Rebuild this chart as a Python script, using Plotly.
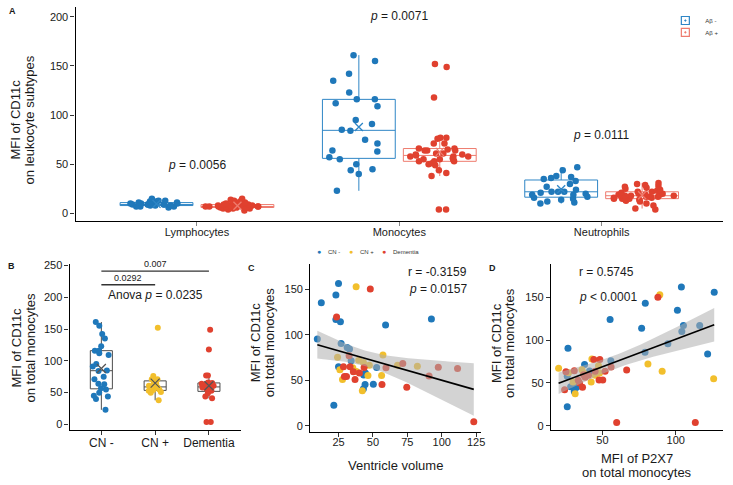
import numpy as np
import plotly.graph_objects as go

W, H = 733, 485

# ---------------- data ----------------
cell_types = ["Lymphocytes", "Monocytes", "Neutrophils"]
amyloid_groups = ["Aβ -", "Aβ +"]
clin_groups = ["CN -", "CN +", "Dementia"]

lymph_neg = [13, 11, 9, 8, 12, 10, 7, 9, 11, 15, 8, 10, 6, 9, 12, 7, 10, 8, 9, 11, 13, 7, 9]
lymph_pos = [7, 8, 6, 9, 5, 7, 10, 8, 6, 7, 12, 9, 4, 7, 8, 6, 11, 7, 5, 9, 8, 14, 6, 7, 3,
             10, 8, 7, 13, 6, 9, 7, 5, 8, 15, 6, 7]
neut_neg = [47, 44, 38, 37, 36, 35, 33, 30, 27, 24, 22, 22, 22, 21, 20, 19, 19, 17, 16, 14,
            12, 11, 10, 15]
neut_pos = [31, 30, 29, 28, 27, 26, 25, 24, 23, 22, 22, 21, 20, 20, 19, 19, 19, 18, 18, 18,
            18, 17, 17, 17, 16, 16, 16, 15, 15, 15, 14, 14, 13, 12, 10, 8, 5, 4]

# total monocytes per clinical group (panel B; also monocytes in panel A)
cn_minus = [161, 155, 142, 135, 123, 116, 116, 112, 109, 95, 91, 84, 85, 75, 71, 64, 63, 57,
            55, 50, 45, 44, 40, 23]
cn_plus = [152, 76, 71, 71, 66, 64, 61, 60, 58, 58, 55, 54, 53, 51, 50, 38]
dementia = [149, 118, 77, 77, 66, 65, 64, 64, 61, 60, 59, 58, 56, 55, 53, 53, 49, 44, 41, 4, 4]

# panel C: ventricle volume vs MFI CD11c
c_cnm_x = [25, 12.5, 23.1, 23.1, 26.4, 9.6, 26.9, 31.3, 33.0, 34.2, 25, 52.7, 44.5, 43.3,
           44.3, 50.3, 43.1, 59.2, 92.5, 21.6]
c_cnm_y = [156.5, 135.5, 144, 117, 114.5, 95.6, 90.6, 86, 84.4, 71.4, 64.9, 64, 58, 55.8,
           45.3, 45.7, 40.6, 111, 117.4, 22.5]
c_cnp_x = [37.8, 24.3, 57.3, 39.7, 43.1, 47.4, 67.9, 82.3, 26.0, 35.4, 46.4, 56.3, 27.9, 42.3, 38.0]
c_cnp_y = [153, 75.4, 78, 72, 69.6, 66.7, 66.7, 65.6, 61.6, 63.8, 55.4, 55.4, 51, 38.4, 59.8]
c_dem_x = [48.1, 23.6, 32.7, 28.6, 33.4, 43.6, 35.8, 40.2, 29.3, 30.8, 37.0, 59.5, 71.7, 97.5,
           111.5, 90.8, 74.6, 56.6, 123.3]
c_dem_y = [150.4, 119.6, 77, 65, 65, 64, 59.4, 58, 54.3, 54.3, 51, 63.8, 68.5, 64.5, 63, 54.7,
           42.4, 45.3, 4.3]

# panel D: MFI P2X7 vs MFI CD11c
d_cnm_x = [103.8, 126.2, 79.2, 101.1, 55.2, 76.7, 105.2, 116.3, 104.1, 94.6, 79.0, 121.7, 26.5,
           37.8, 55.7, 26.0, 28.3, 30.8, 32.4, 26.0, 41.2]
d_cnm_y = [162, 156, 143, 135, 124, 114, 117, 117, 110, 95.8, 85.8, 83.8, 90.4, 71.5, 75.8,
           57.7, 45.4, 40, 45, 22.3, 63.8]
d_cnp_x = [89.1, 20.1, 42.8, 47.3, 36.0, 81.0, 90.7, 125.8, 31.4, 42.3, 29.9, 45.0, 48.0, 37.1, 26.9]
d_cnp_y = [153, 67, 78, 70, 65.4, 72, 63.5, 55, 37.3, 51, 51, 59, 61.5, 61.5, 62]
d_dem_x = [87.8, 44.1, 48.2, 25.1, 30.8, 24.2, 36.4, 47.7, 50.2, 66.5, 51.8, 55.9, 33.5, 38.2,
           37.1, 45.0, 59.7, 113.3, 40.5, 34.4]
d_dem_y = [150, 77.3, 77.3, 63, 64.2, 42, 45, 53.5, 53.5, 65, 63.5, 68.5, 53, 56.5, 59.6, 63.5,
           3.8, 3.8, 59, 50]

stats_A = ["0.0056", "0.0071", "0.0111"]
stats_C = ("-0.3159", "= 0.0157")
stats_D = ("0.5745", "< 0.0001")

# ---------------- styles ----------------
BLUE, YELLOW, RED = "#1F78BA", "#F2BF2C", "#E0412F"
BLUE_BOX, RED_BOX = "#2F86C6", "#EE7B6E"
FONT = "Liberation Sans, Arial, sans-serif"
TXT = "#1a1a1a"


def fx(p):
    return p / W


def fy(p):
    return 1 - p / H


def fit_band(x, y, t=2.004):
    x = np.asarray(x, float)
    y = np.asarray(y, float)
    n = len(x)
    b, a = np.polyfit(x, y, 1)
    xs = np.linspace(x.min(), x.max(), 80)
    yh = a + b * xs
    s = np.sqrt(np.sum((y - (a + b * x)) ** 2) / (n - 2))
    sxx = np.sum((x - x.mean()) ** 2)
    se = s * np.sqrt(1 / n + (xs - x.mean()) ** 2 / sxx)
    return xs, yh, yh - t * se, yh + t * se


fig = go.Figure()

# ---------------- panel A ----------------
neg_sets = [lymph_neg, cn_minus, neut_neg]
pos_sets = [lymph_pos, cn_plus + dementia, neut_pos]
offset = 0.2
for sets, sign, col, boxcol, name, lg in [
    (neg_sets, -1, BLUE, BLUE_BOX, amyloid_groups[0], "legend"),
    (pos_sets, 1, RED, RED_BOX, amyloid_groups[1], "legend3"),
]:
    xs, ys = [], []
    for i, vals in enumerate(sets):
        xs += [i + sign * offset] * len(vals)
        ys += list(vals)
    fig.add_trace(go.Box(
        x=xs, y=ys, name=name, showlegend=False,
        boxpoints="all", jitter=0.9, pointpos=0, width=0.36, whiskerwidth=0,
        quartilemethod="linear",
        line=dict(color=boxcol, width=1), fillcolor="rgba(255,255,255,0)",
        marker=dict(color=col, size=6.5, line=dict(width=0)),
        xaxis="x", yaxis="y", hoverinfo="skip"))
    fig.add_trace(go.Scatter(
        x=[i + sign * offset for i in range(len(sets))],
        y=[float(np.mean(v)) for v in sets],
        mode="markers", showlegend=False,
        marker=dict(symbol="x-thin", size=8, line=dict(color=boxcol, width=1.3)),
        xaxis="x", yaxis="y", hoverinfo="skip"))
    # legend key (box outline with point), legend only
    fig.add_trace(go.Scatter(
        x=[None], y=[None], mode="markers", name=name, legend=lg, showlegend=True,
        marker=dict(symbol="square-open-dot", size=8, color=boxcol,
                    line=dict(color=boxcol, width=1.2)),
        xaxis="x", yaxis="y", hoverinfo="skip"))

# ---------------- panel B ----------------
b_sets = [cn_minus, cn_plus, dementia]
b_cols = [BLUE, YELLOW, RED]
for i, (vals, col) in enumerate(zip(b_sets, b_cols)):
    fig.add_trace(go.Box(
        x=[i] * len(vals), y=vals, name=clin_groups[i], showlegend=False,
        boxpoints="all", jitter=0.9, pointpos=0, width=0.41, whiskerwidth=0,
        quartilemethod="linear",
        line=dict(color="#4d4d4d", width=1), fillcolor="rgba(255,255,255,0)",
        marker=dict(color=col, size=6, line=dict(width=0)),
        xaxis="x2", yaxis="y2", hoverinfo="skip"))
fig.add_trace(go.Scatter(
    x=list(range(3)), y=[float(np.mean(v)) for v in b_sets], mode="markers",
    showlegend=False,
    marker=dict(symbol="x-thin", size=9, line=dict(color="#555555", width=1.2)),
    xaxis="x2", yaxis="y2", hoverinfo="skip"))

# ---------------- panels C and D ----------------
for xa, ya, sets in [
    ("x3", "y3", [(c_cnm_x, c_cnm_y), (c_cnp_x, c_cnp_y), (c_dem_x, c_dem_y)]),
    ("x4", "y4", [(d_cnm_x, d_cnm_y), (d_cnp_x, d_cnp_y), (d_dem_x, d_dem_y)]),
]:
    for (gx, gy), col, nm in zip(sets, b_cols, clin_groups):
        fig.add_trace(go.Scatter(
            x=gx, y=gy, mode="markers", name=nm, showlegend=False,
            marker=dict(color=col, size=7, line=dict(width=0)),
            xaxis=xa, yaxis=ya, hoverinfo="skip"))
    allx = sum([list(s[0]) for s in sets], [])
    ally = sum([list(s[1]) for s in sets], [])
    xs, yh, lo, hi = fit_band(allx, ally)
    fig.add_trace(go.Scatter(
        x=np.concatenate([xs, xs[::-1]]), y=np.concatenate([hi, lo[::-1]]),
        fill="toself", fillcolor="rgba(175,175,175,0.55)", line=dict(width=0),
        mode="lines", showlegend=False, xaxis=xa, yaxis=ya, hoverinfo="skip"))
    fig.add_trace(go.Scatter(
        x=xs, y=yh, mode="lines", line=dict(color="black", width=1.6),
        showlegend=False, xaxis=xa, yaxis=ya, hoverinfo="skip"))

# ---------------- axes ----------------
tickf = dict(family=FONT, size=11, color=TXT)
common = dict(showline=True, linecolor="black", linewidth=1.3, ticks="outside", ticklen=4,
              tickcolor="#333333", tickwidth=1, showgrid=False, zeroline=False,
              tickfont=tickf, fixedrange=True)
xcommon = {**common, "ticklabelstandoff": -4}

layout = dict(
    width=W, height=H, margin=dict(l=0, r=0, t=0, b=0),
    paper_bgcolor="white", plot_bgcolor="white", showlegend=True,
    font=dict(family=FONT, color=TXT),
    xaxis=dict(domain=[fx(76), fx(727)], range=[-0.6, 2.6], tickvals=[0, 1, 2],
               ticktext=cell_types, anchor="y", **{**xcommon, "tickcolor": "#888888"}),
    yaxis=dict(domain=[fy(220), fy(3)], range=[-8, 210], tickvals=[0, 50, 100, 150, 200],
               anchor="x", **common),
    xaxis2=dict(domain=[fx(70), fx(242)], range=[-0.59, 2.59], tickvals=[0, 1, 2],
                ticktext=clin_groups, anchor="y2",
                **{**common, "ticklabelstandoff": -2,
                   "tickfont": dict(family=FONT, size=12, color=TXT)}),
    yaxis2=dict(domain=[fy(431), fy(263)], range=[-8.2, 252.6],
                tickvals=[0, 50, 100, 150, 200, 250], anchor="x2", **common),
    xaxis3=dict(domain=[fx(312), fx(484)], range=[4.5, 128.8],
                tickvals=[25, 50, 75, 100, 125], anchor="y3", **xcommon),
    yaxis3=dict(domain=[fy(433), fy(263)], range=[-6.5, 178.3],
                tickvals=[0, 50, 100, 150], anchor="x3", **common),
    xaxis4=dict(domain=[fx(554), fx(727)], range=[14.9, 132.2],
                tickvals=[50, 100], anchor="y4", **xcommon),
    yaxis4=dict(domain=[fy(431), fy(263)], range=[-4.6, 189.2],
                tickvals=[0, 50, 100, 150], anchor="x4", **common),
    legend=dict(x=fx(669), y=fy(2), xanchor="left", yanchor="top",
                font=dict(family=FONT, size=6, color="#333"), bgcolor="rgba(0,0,0,0)",
                itemwidth=30, tracegroupgap=0, itemsizing="trace"),
    legend3=dict(x=fx(669), y=fy(14), xanchor="left", yanchor="top",
                 font=dict(family=FONT, size=6, color="#333"), bgcolor="rgba(0,0,0,0)",
                 itemwidth=30, tracegroupgap=0, itemsizing="trace"),
)
fig.update_layout(**layout)

ann = []


def add_text(x, y, text, size=12, xref="paper", yref="paper", xanchor="center",
             yanchor="middle", angle=0, bold=False, color=TXT):
    ann.append(dict(x=x, y=y, xref=xref, yref=yref, text=("<b>%s</b>" % text) if bold else text,
                    showarrow=False, xanchor=xanchor, yanchor=yanchor, textangle=angle,
                    font=dict(family=FONT, size=size, color=color)))


# panel letters
add_text(fx(13), fy(7), "A", size=9, bold=True)
add_text(fx(12), fy(265), "B", size=9, bold=True)
add_text(fx(253), fy(267), "C", size=9, bold=True)
add_text(fx(495), fy(267), "D", size=9, bold=True)

# axis titles
add_text(fx(16), fy(117), "MFI of CD11c", size=13, angle=-90)
add_text(fx(30), fy(117), "on leukocyte subtypes", size=13, angle=-90)
add_text(fx(17), fy(348), "MFI of CD11c", size=13, angle=-90)
add_text(fx(31), fy(348), "on total monocytes", size=13, angle=-90)
add_text(fx(257), fy(343), "MFI of CD11c", size=13, angle=-90)
add_text(fx(271), fy(343), "on total monocytes", size=13, angle=-90)
add_text(fx(499), fy(343), "MFI of CD11c", size=13, angle=-90)
add_text(fx(513), fy(343), "on total monocytes", size=13, angle=-90)
add_text(fx(398), fy(467), "Ventricle volume", size=13)
add_text(fx(640), fy(460), "MFI of P2X7", size=13)
add_text(fx(640), fy(474), "on total monocytes", size=13)

# panel A p-values
for i, (p, yv) in enumerate(zip(stats_A, [49, 201, 80])):
    add_text(i, yv, "<i>p</i> = " + p, size=12, xref="x", yref="y")

# panel B comparisons
comparisons = [(0, 2, "0.007", 241), (0, 1, "0.0292", 219.6)]
shapes = []
for a, b, lab, yv in comparisons:
    shapes.append(dict(type="line", xref="x2", yref="y2", x0=a, x1=b, y0=yv, y1=yv,
                       line=dict(color="#333333", width=1.3)))
    add_text((a + b) / 2, yv, lab, size=9, xref="x2", yref="y2", yanchor="bottom")
add_text(1, 204, "Anova <i>p</i> = 0.0235", size=12, xref="x2", yref="y2")

# panel C / D stats
add_text(fx(472), fy(271), "r = " + stats_C[0], size=12, xanchor="right")
add_text(fx(472), fy(289), "<i>p</i> " + stats_C[1], size=12, xanchor="right")
add_text(fx(580), fy(271), "r = " + stats_D[0], size=12, xanchor="left")
add_text(fx(580), fy(297), "<i>p</i> " + stats_D[1], size=12, xanchor="left")

# panel C group key
for cx, col, nm in zip([321, 353, 386], b_cols, clin_groups):
    add_text(fx(cx), fy(251), "●", size=7, color=col)
    add_text(fx(cx + 7), fy(251), nm, size=6, xanchor="left", color="#333")

fig.update_layout(annotations=ann, shapes=shapes)
fig.write_html("out.html", config={"displayModeBar": False},
               post_script="document.body.style.margin='0';")
